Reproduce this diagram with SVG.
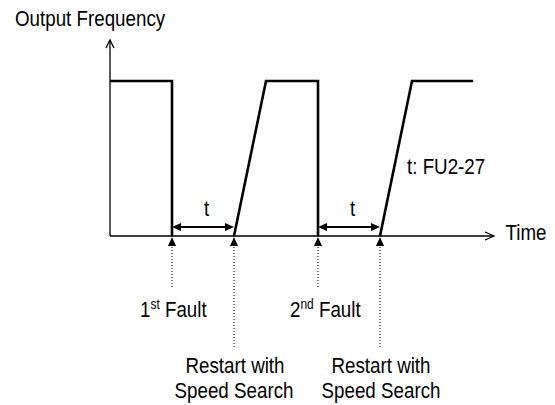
<svg xmlns="http://www.w3.org/2000/svg" width="555" height="405" viewBox="0 0 555 405">
<defs>
<style>
text{font-family:"Liberation Sans",Arial,sans-serif;font-size:22px;fill:#000}
.ax{stroke:#000;stroke-width:1.3;fill:none}
.wave{stroke:#000;stroke-width:2.6;fill:none;stroke-linejoin:miter}
.dim{stroke:#000;stroke-width:2;fill:none}
.dot{stroke:#000;stroke-width:1;stroke-dasharray:1 2;fill:none}
.tri{fill:#000}
.sup{font-size:14px}
</style>
</defs>
<rect width="555" height="405" fill="#fff"/>
<g id="axes">
<line class="ax" x1="110" y1="236" x2="110" y2="41"/>
<polyline class="ax" points="106,48 110,40 114,48"/>
<line class="ax" x1="110" y1="236" x2="493" y2="236"/>
<polyline class="ax" points="485,232 494,236 485,240"/>
<text transform="translate(15,25.5) scale(0.853,1)">Output Frequency</text>
<text transform="translate(505.5,240) scale(0.853,1)">Time</text>
</g>
<g id="waveform">
<polyline class="wave" points="110,81 172,81 172,236"/>
<polyline class="wave" points="234,236 266,81 318,81 318,236"/>
<polyline class="wave" points="380,236 412,81 473,81"/>
</g>
<g id="connectors">
<line class="dim" x1="180" y1="227" x2="226" y2="227"/>
<polygon class="tri" points="172,227 181,223 181,231"/>
<polygon class="tri" points="234,227 225,223 225,231"/>
<line class="dim" x1="326" y1="227" x2="372" y2="227"/>
<polygon class="tri" points="318,227 327,223 327,231"/>
<polygon class="tri" points="380,227 371,223 371,231"/>
<polygon class="tri" points="172,237 176,246 168,246"/>
<polygon class="tri" points="234,237 238,246 230,246"/>
<polygon class="tri" points="318,237 322,246 314,246"/>
<polygon class="tri" points="380,237 384,246 376,246"/>
<line class="dot" x1="172" y1="247" x2="172" y2="288"/>
<line class="dot" x1="234" y1="247" x2="234" y2="348"/>
<line class="dot" x1="318" y1="247" x2="318" y2="288"/>
<line class="dot" x1="380" y1="247" x2="380" y2="348"/>
</g>
<g id="labels">
<text transform="translate(206.5,216) scale(0.853,1)" text-anchor="middle">t</text>
<text transform="translate(352.5,216) scale(0.853,1)" text-anchor="middle">t</text>
<text transform="translate(407,173.5) scale(0.853,1)">t: FU2-27</text>
</g>
<g id="fault1">
<text transform="translate(140,316.5) scale(0.853,1)">1<tspan class="sup" dy="-8">st</tspan><tspan dy="8"> Fault</tspan></text>
</g>
<g id="fault2">
<text transform="translate(290,316.5) scale(0.853,1)">2<tspan class="sup" dy="-8">nd</tspan><tspan dy="8"> Fault</tspan></text>
</g>
<g id="restart1">
<text transform="translate(235,373) scale(0.853,1)" text-anchor="middle">Restart with</text>
<text transform="translate(234,397.5) scale(0.853,1)" text-anchor="middle">Speed Search</text>
</g>
<g id="restart2">
<text transform="translate(381,373) scale(0.853,1)" text-anchor="middle">Restart with</text>
<text transform="translate(381,397.5) scale(0.853,1)" text-anchor="middle">Speed Search</text>
</g>
</svg>
